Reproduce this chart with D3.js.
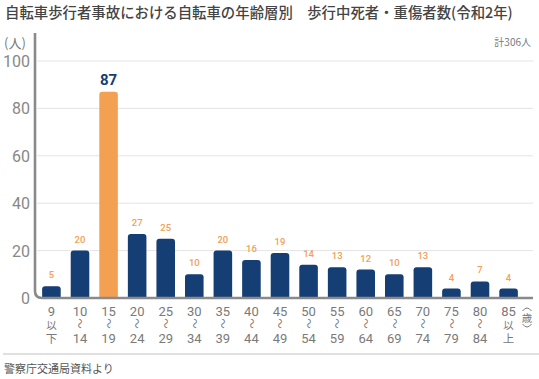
<!DOCTYPE html>
<html>
<head>
<meta charset="utf-8">
<script src="https://cdn.jsdelivr.net/npm/d3@7"></script>
<style>
  body { margin: 0; background: #fff; }
  svg { display: block; font-family: "Noto Sans CJK JP", "Noto Sans", sans-serif; }
</style>
</head>
<body>
<svg id="chart" width="539" height="379"></svg>
<script>
// data
var ageTop = ['9','10','15','20','25','30','35','40','45','50','55','60','65','70','75','80','85'],
    ageBottom = ['下','14','19','24','29','34','39','44','49','54','59','64','69','74','79','84','上'],
    values = [5, 20, 87, 27, 25, 10, 20, 16, 19, 14, 13, 12, 10, 13, 4, 7, 4],
    yTicks = [0, 20, 40, 60, 80, 100],
    highlight = '15';

var svg = d3.select('#chart'),
    navy = '#143e74',
    orange = '#f4a053',
    axisGray = '#8a8a8a',
    textGray = '#7a7a7a',
    numFont = 'Roboto, "Noto Sans", sans-serif';

var x = d3.scaleBand().domain(ageTop).range([37, 523]).paddingInner(0.35).paddingOuter(0.18),
    y = d3.scaleLinear().domain([0, 100]).range([298, 61]);

var isEnd = function(i) { return i === 0 || i === ageTop.length - 1; };

// title
svg.append('text')
  .attr('x', 5).attr('y', 18)
  .attr('font-size', 14.4).attr('font-weight', 500).attr('fill', '#444')
  .text('自転車歩行者事故における自転車の年齢層別　歩行中死者・重傷者数(令和2年)');

svg.append('text')
  .attr('x', 4).attr('y', 48)
  .attr('font-size', 13).attr('fill', textGray)
  .text('(人)');

svg.append('text')
  .attr('x', 531).attr('y', 46).attr('text-anchor', 'end')
  .attr('font-size', 10).attr('fill', textGray)
  .text('計306人');

// grid
svg.selectAll('.grid').data(yTicks.filter(function(d) { return d > 0; })).enter()
  .append('line').attr('class', 'grid')
  .attr('x1', 37).attr('x2', 533)
  .attr('y1', function(d) { return y(d); })
  .attr('y2', function(d) { return y(d); })
  .attr('stroke', '#e4e4e4').attr('stroke-width', 1);

// y tick labels
svg.selectAll('.ytick').data(yTicks).enter()
  .append('text').attr('class', 'ytick')
  .attr('x', 30).attr('y', function(d) { return y(d) + 6; })
  .attr('text-anchor', 'end')
  .attr('font-size', 16).attr('fill', '#888')
  .attr('font-family', numFont)
  .text(function(d) { return d; });

// bars with rounded tops
function barPath(d, i) {
  var x0 = x(ageTop[i]), w = x.bandwidth(), y0 = y(0), y1 = y(d), r = 3;
  return 'M' + x0 + ',' + y0 + ' V' + (y1 + r) +
         ' Q' + x0 + ',' + y1 + ' ' + (x0 + r) + ',' + y1 +
         ' H' + (x0 + w - r) +
         ' Q' + (x0 + w) + ',' + y1 + ' ' + (x0 + w) + ',' + (y1 + r) +
         ' V' + y0 + 'Z';
}
svg.selectAll('.bar').data(values).enter()
  .append('path').attr('class', 'bar')
  .attr('d', barPath)
  .attr('fill', function(d, i) { return ageTop[i] === highlight ? orange : navy; });

// value labels
svg.selectAll('.val').data(values).enter()
  .append('text').attr('class', 'val')
  .attr('x', function(d, i) { return x(ageTop[i]) + x.bandwidth() / 2; })
  .attr('y', function(d, i) { return y(d) - (ageTop[i] === highlight ? 7 : 8); })
  .attr('text-anchor', 'middle')
  .attr('font-family', numFont)
  .attr('font-size', function(d, i) { return ageTop[i] === highlight ? 15 : 9.5; })
  .attr('font-weight', function(d, i) { return ageTop[i] === highlight ? 700 : 500; })
  .attr('fill', function(d, i) { return ageTop[i] === highlight ? navy : orange; })
  .text(function(d) { return d; });

// axis lines with rounded corner
svg.append('path')
  .attr('d', 'M35,33 V291 Q35,298 42,298 H533')
  .attr('fill', 'none').attr('stroke', axisGray).attr('stroke-width', 2.6);

// x labels: three stacked lines
var xl = svg.selectAll('.xl').data(ageTop).enter()
  .append('g').attr('class', 'xl')
  .attr('transform', function(d) { return 'translate(' + (x(d) + x.bandwidth() / 2) + ',0)'; });
xl.append('text').attr('y', 316).attr('text-anchor', 'middle')
  .attr('font-size', 13).attr('fill', textGray)
  .attr('font-family', numFont)
  .text(function(d) { return d; });
xl.append('text')
  .attr('text-anchor', 'middle')
  .attr('font-size', function(d, i) { return isEnd(i) ? 10.5 : 10.5; })
  .attr('fill', textGray)
  .attr('transform', function(d, i) {
    return isEnd(i) ? 'translate(0,329)' : 'translate(0,323.5) rotate(90)';
  })
  .attr('dy', function(d, i) { return isEnd(i) ? 0 : '0.35em'; })
  .text(function(d, i) { return isEnd(i) ? '以' : '〜'; });
xl.append('text').attr('y', 343).attr('text-anchor', 'middle')
  .attr('font-size', function(d, i) { return isEnd(i) ? 11.5 : 13; })
  .attr('fill', textGray)
  .attr('font-family', function(d, i) { return isEnd(i) ? null : numFont; })
  .text(function(d, i) { return ageBottom[i]; });

// (歳) with vertical brackets
svg.append('path')
  .attr('d', 'M522.5,311 Q527,305 531.5,311 M522.5,324 Q527,330 531.5,324')
  .attr('fill', 'none').attr('stroke', textGray).attr('stroke-width', 1);
svg.append('text')
  .attr('x', 527).attr('y', 322).attr('text-anchor', 'middle')
  .attr('font-size', 10.5).attr('fill', textGray)
  .text('歳');

// footer
svg.append('line')
  .attr('x1', 3).attr('x2', 539).attr('y1', 354).attr('y2', 354)
  .attr('stroke', '#e0e0e0').attr('stroke-width', 2);
svg.append('text')
  .attr('x', 4).attr('y', 373)
  .attr('font-size', 11).attr('fill', '#555')
  .text('警察庁交通局資料より');
</script>
</body>
</html>
